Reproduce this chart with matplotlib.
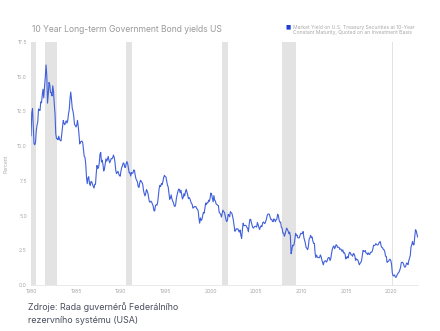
import matplotlib
matplotlib.use("Agg")
import matplotlib.pyplot as plt
import numpy as np

# -----------------------
# DATA (monthly, percent)
# -----------------------
START_YEAR = 1980

Y1980 = [10.75, 12.41, 12.70, 11.47, 10.18, 10.10, 10.25, 11.10, 11.51, 11.75, 12.68, 12.60]
Y1981 = [12.57, 13.19, 13.12, 13.68, 14.10, 13.47, 14.28, 14.94, 15.85, 15.15, 13.10, 13.72]
Y1982 = [14.59, 14.43, 13.86, 13.87, 13.62, 14.35, 13.95, 13.06, 12.34, 10.91, 10.55, 10.54]
Y1983 = [10.46, 10.72, 10.51, 10.40, 10.38, 10.85, 11.38, 11.85, 11.65, 11.54, 11.69, 11.83]
Y1984 = [11.67, 11.84, 12.32, 12.63, 13.41, 13.90, 13.36, 12.72, 12.52, 12.16, 11.57, 11.50]
Y1985 = [11.38, 11.51, 11.86, 11.43, 10.85, 10.16, 10.31, 10.33, 10.37, 10.24, 9.78, 9.26]
Y1986 = [9.19, 8.70, 7.78, 7.30, 7.71, 7.80, 7.30, 7.17, 7.45, 7.43, 7.25, 7.11]
Y1987 = [6.98, 7.25, 7.25, 8.02, 8.61, 8.40, 8.45, 8.76, 9.42, 9.55, 8.86, 8.99]
Y1988 = [8.67, 8.21, 8.37, 8.72, 9.09, 8.92, 9.06, 9.26, 8.98, 8.80, 8.96, 9.11]
Y1989 = [9.09, 9.17, 9.36, 9.18, 8.86, 8.28, 8.02, 8.11, 8.19, 8.01, 7.87, 7.84]
Y1990 = [8.21, 8.47, 8.59, 8.79, 8.76, 8.48, 8.47, 8.75, 8.89, 8.72, 8.39, 8.08]
Y1991 = [8.09, 7.85, 8.11, 8.04, 8.07, 8.28, 8.27, 7.90, 7.65, 7.53, 7.42, 7.09]
Y1992 = [7.03, 7.34, 7.54, 7.48, 7.39, 7.26, 6.84, 6.59, 6.42, 6.59, 6.87, 6.77]
Y1993 = [6.60, 6.26, 5.98, 5.97, 6.04, 5.96, 5.81, 5.68, 5.36, 5.33, 5.72, 5.77]
Y1994 = [5.75, 5.97, 6.48, 6.97, 7.18, 7.10, 7.30, 7.24, 7.46, 7.74, 7.90, 7.81]
Y1995 = [7.78, 7.47, 7.20, 7.06, 6.63, 6.17, 6.28, 6.49, 6.20, 6.04, 5.93, 5.71]
Y1996 = [5.65, 5.81, 6.27, 6.51, 6.74, 6.91, 6.87, 6.64, 6.83, 6.53, 6.20, 6.30]
Y1997 = [6.58, 6.42, 6.69, 6.89, 6.71, 6.49, 6.22, 6.30, 6.21, 6.03, 5.88, 5.81]
Y1998 = [5.54, 5.57, 5.65, 5.64, 5.65, 5.50, 5.46, 5.34, 4.81, 4.45, 4.83, 4.65]
Y1999 = [4.72, 5.00, 5.23, 5.18, 5.54, 5.90, 5.79, 5.94, 5.92, 6.11, 6.03, 6.28]
Y2000 = [6.62, 6.52, 6.26, 5.99, 6.44, 6.10, 6.05, 5.83, 5.80, 5.74, 5.72, 5.24]
Y2001 = [5.16, 5.10, 4.89, 5.14, 5.39, 5.28, 5.24, 4.97, 4.73, 4.57, 4.65, 5.09]
Y2002 = [5.04, 4.91, 5.28, 5.21, 5.16, 4.93, 4.65, 4.26, 3.87, 3.94, 4.05, 4.03]
Y2003 = [4.05, 3.90, 3.81, 3.96, 3.57, 3.36, 3.98, 4.45, 4.27, 4.29, 4.30, 4.27]
Y2004 = [4.15, 4.08, 3.83, 4.35, 4.72, 4.73, 4.50, 4.28, 4.13, 4.10, 4.19, 4.23]
Y2005 = [4.22, 4.17, 4.50, 4.34, 4.14, 4.00, 4.18, 4.26, 4.20, 4.46, 4.54, 4.47]
Y2006 = [4.42, 4.57, 4.72, 4.99, 5.11, 5.11, 5.09, 4.88, 4.72, 4.73, 4.60, 4.56]
Y2007 = [4.76, 4.72, 4.56, 4.69, 4.75, 5.10, 5.00, 4.67, 4.52, 4.53, 4.15, 4.10]
Y2008 = [3.74, 3.74, 3.51, 3.68, 3.88, 4.10, 4.01, 3.89, 3.69, 3.81, 3.53, 2.25]
Y2009 = [2.52, 2.87, 2.82, 2.93, 3.29, 3.72, 3.56, 3.59, 3.40, 3.39, 3.40, 3.59]
Y2010 = [3.73, 3.69, 3.73, 3.85, 3.42, 3.20, 3.01, 2.70, 2.65, 2.54, 2.76, 3.29]
Y2011 = [3.39, 3.58, 3.41, 3.46, 3.17, 3.00, 3.00, 2.30, 1.98, 2.15, 2.01, 1.98]
Y2012 = [1.97, 1.97, 2.17, 2.05, 1.80, 1.62, 1.45, 1.68, 1.72, 1.75, 1.65, 1.72]
Y2013 = [1.91, 1.98, 1.96, 1.76, 1.93, 2.30, 2.58, 2.74, 2.81, 2.62, 2.72, 2.90]
Y2014 = [2.86, 2.71, 2.72, 2.71, 2.56, 2.60, 2.54, 2.42, 2.53, 2.30, 2.33, 2.21]
Y2015 = [1.88, 1.98, 2.04, 1.94, 2.20, 2.36, 2.32, 2.17, 2.17, 2.07, 2.26, 2.24]
Y2016 = [2.09, 1.78, 1.89, 1.81, 1.81, 1.64, 1.45, 1.56, 1.63, 1.76, 2.14, 2.49]
Y2017 = [2.43, 2.42, 2.48, 2.30, 2.30, 2.19, 2.32, 2.21, 2.20, 2.36, 2.35, 2.40]
Y2018 = [2.58, 2.86, 2.84, 2.87, 2.98, 2.91, 2.89, 2.89, 3.00, 3.10, 3.12, 2.83]
Y2019 = [2.71, 2.68, 2.57, 2.53, 2.40, 2.07, 2.06, 1.63, 1.70, 1.71, 1.81, 1.86]
Y2020 = [1.76, 1.50, 0.87, 0.66, 0.67, 0.73, 0.58, 0.55, 0.68, 0.79, 0.87, 0.93]
Y2021 = [1.08, 1.26, 1.61, 1.64, 1.62, 1.52, 1.32, 1.28, 1.37, 1.58, 1.56, 1.47]
Y2022 = [1.76, 1.93, 2.13, 2.75, 2.90, 3.14, 2.90, 2.90, 3.52, 3.98, 3.89, 3.62]
Y2023 = [3.45]

YIELDS = (Y1980 + Y1981 + Y1982 + Y1983 + Y1984 + Y1985 + Y1986 + Y1987 + Y1988
          + Y1989 + Y1990 + Y1991 + Y1992 + Y1993 + Y1994 + Y1995 + Y1996 + Y1997
          + Y1998 + Y1999 + Y2000 + Y2001 + Y2002 + Y2003 + Y2004 + Y2005 + Y2006
          + Y2007 + Y2008 + Y2009 + Y2010 + Y2011 + Y2012 + Y2013 + Y2014 + Y2015
          + Y2016 + Y2017 + Y2018 + Y2019 + Y2020 + Y2021 + Y2022 + Y2023)

# US recessions (start, end) as decimal years
RECESSIONS = [
    (1980.0, 1980.55),
    (1981.55, 1982.9),
    (1990.55, 1991.2),
    (2001.2, 2001.9),
    (2007.95, 2009.45),
    (2020.12, 2020.30),
]

YTICKS = [0.0, 2.5, 5.0, 7.5, 10.0, 12.5, 15.0, 17.5]
XTICKS = [1980, 1985, 1990, 1995, 2000, 2005, 2010, 2015, 2020]

TITLE = "10 Year Long-term Government Bond yields US"
SERIES_LABEL = ("Market Yield on U.S. Treasury Securities at 10-Year\n"
                "Constant Maturity, Quoted on an Investment Basis")
SOURCE = "Zdroje: Rada guvernérů Federálního\nrezervního systému (USA)"

# -----------------------
# DRAW
# -----------------------
plt.rcParams['font.family'] = ['Inter', 'DejaVu Sans']

x = START_YEAR + np.arange(len(YIELDS)) / 12.0

fig = plt.figure(figsize=(4.4, 3.31), dpi=100)
ax = fig.add_axes([0.0705, 0.139, 0.879, 0.734])

for a, b in RECESSIONS:
    ax.axvspan(a, b, color='#e3e3e3', lw=0, zorder=0)

ax.plot(x, YIELDS, color='#4060da', lw=0.8, zorder=2)

ax.set_xlim(START_YEAR, x[-1])
ax.set_ylim(0, 17.5)
ax.set_yticks(YTICKS)
ax.set_yticklabels([f"{v:.1f}" for v in YTICKS])
ax.set_xticks(XTICKS)
ax.tick_params(axis='both', length=0, labelsize=3.7, colors='#a8a8a8', pad=3)
for side in ['top', 'right', 'left']:
    ax.spines[side].set_visible(False)
ax.spines['bottom'].set_color('#e6e6e6')
ax.spines['bottom'].set_linewidth(0.6)

ax.set_ylabel('Percent', fontsize=3.6, color='#a8a8a8', labelpad=6)

fig.text(32 / 440, 1 - 29 / 331, TITLE, fontsize=6.2, color='#9a9a9a',
         ha='left', va='center')

# legend: small square marker plus two-line label
fig.text(288 / 440, 1 - 27 / 331, '\u25a0', fontsize=4, color='#1f3fd0',
         ha='center', va='center', family='DejaVu Sans')
fig.text(293 / 440, 1 - 30 / 331, SERIES_LABEL, fontsize=3.6, color='#a8a8a8',
         ha='left', va='center', linespacing=1.2)

fig.text(28 / 440, 1 - 313.5 / 331, SOURCE, fontsize=6.4, color='#4a4f5e',
         ha='left', va='center', linespacing=1.5)

fig.savefig('out.png', dpi=100)
